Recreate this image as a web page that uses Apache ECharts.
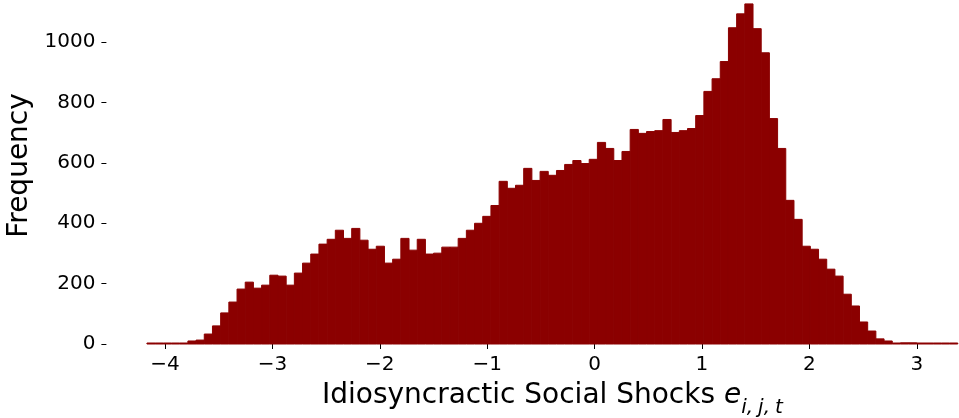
<!DOCTYPE html>
<html>
<head>
<meta charset="utf-8">
<script src="https://cdn.jsdelivr.net/npm/echarts@6/dist/echarts.min.js"></script>
<style>
  html, body { margin: 0; padding: 0; background: #fff; }
  #chart { width: 959px; height: 418px; }
</style>
</head>
<body>
<div id="chart"></div>
<script>
// histogram bins: first left edge and bin width
let bin_start = -4.168;
let bin_width = 0.07626;
// counts per bin
let counts = [
  0, 0, 0, 0, 0, 10, 13, 33, 60, 103,
  139, 182, 205, 185, 195, 228, 225, 195, 235, 268,
  298, 331, 347, 377, 350, 383, 344, 314, 324, 268,
  281, 350, 311, 347, 298, 301, 321, 321, 350, 377,
  400, 423, 459, 539, 516, 526, 582, 542, 572, 559,
  575, 595, 608, 598, 612, 668, 648, 608, 638, 711,
  698, 704, 707, 744, 701, 707, 714, 757, 837, 879,
  936, 1048, 1094, 1127, 1045, 965, 747, 648, 476, 413,
  324, 314, 281, 248, 225, 165, 126, 73, 43, 17,
  10, 0, 4, 4, 0, 0, 0, 0, 0
];
let x_ticks = [-4, -3, -2, -1, 0, 1, 2, 3];
let y_ticks = [0, 200, 400, 600, 800, 1000];

let font = 'DejaVu Sans';
let bar_color = '#8b0000';

let hist_data = counts.map((c, i) => [bin_start + i * bin_width, bin_start + (i + 1) * bin_width, c]);

let chart = echarts.init(document.getElementById('chart'));
let option = {
  animation: false,
  grid: { left: 106.4, right: -39.4, top: -13, bottom: 74, outerBoundsMode: 'none', containLabel: false },
  xAxis: {
    type: 'value',
    min: -4.5455,
    max: 3.76,
    splitLine: { show: false },
    axisLine: { show: false, onZero: false },
    axisTick: { show: true, length: 5, lineStyle: { color: '#000', width: 1 }, customValues: x_ticks },
    axisLabel: {
      customValues: x_ticks,
      color: '#000',
      fontFamily: font,
      fontSize: 20,
      margin: 11,
      formatter: (v) => (v < 0 ? '\u2212' + Math.abs(v) : String(v)),
    },
    name: '{a|Idiosyncractic Social Shocks }{e|e}{s|i,\u2005j,\u2005t}',
    nameLocation: 'middle',
    nameGap: 30,
    nameTextStyle: {
      rich: {
        a: { fontFamily: font, fontSize: 28, color: '#000', lineHeight: 44 },
        e: { fontFamily: font, fontSize: 28, fontStyle: 'italic', color: '#000', lineHeight: 44 },
        s: { fontFamily: font, fontSize: 20, fontStyle: 'italic', color: '#000', lineHeight: 40, verticalAlign: 'bottom' },
      },
    },
  },
  yAxis: {
    type: 'value',
    min: 0,
    max: 1183,
    splitLine: { show: false },
    axisLine: { show: false, onZero: false },
    axisTick: { show: true, length: 5, lineStyle: { color: '#000', width: 1 }, customValues: y_ticks },
    axisLabel: {
      customValues: y_ticks,
      color: '#000',
      fontFamily: font,
      fontSize: 20,
      margin: 11,
      formatter: (v) => String(v),
    },
    name: 'Frequency',
    nameLocation: 'middle',
    nameGap: 67,
    nameTextStyle: { fontFamily: font, fontSize: 28, color: '#000' },
  },
  series: [
    {
      type: 'custom',
      data: hist_data,
      encode: { x: [0, 1], y: 2 },
      clip: false,
      renderItem(params, api) {
        let p0 = api.coord([api.value(0), api.value(2)]);
        let p1 = api.coord([api.value(1), 0]);
        let h = p1[1] - p0[1];
        if (h < 1) h = 1;
        return {
          type: 'rect',
          shape: { x: p0[0], y: p1[1] - h, width: p1[0] - p0[0], height: h },
          style: { fill: bar_color, stroke: bar_color, lineWidth: 1 },
        };
      },
    },
  ],
};
chart.setOption(option);
</script>
</body>
</html>
